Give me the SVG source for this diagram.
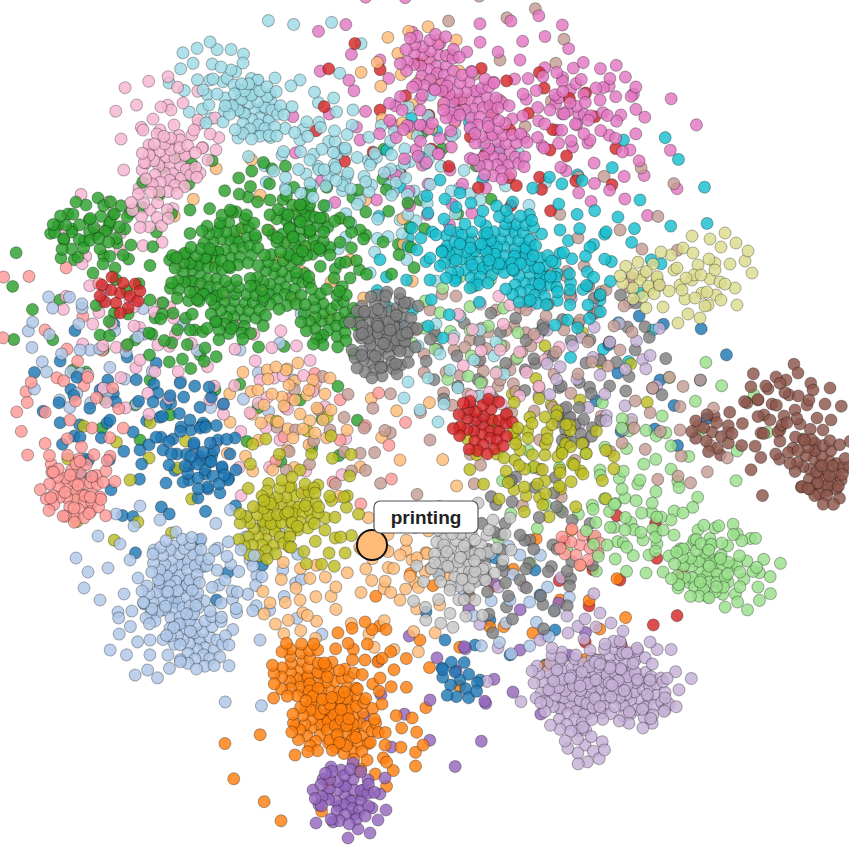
<svg xmlns="http://www.w3.org/2000/svg" width="849" height="852" viewBox="0 0 849 852">
<defs>
<style>
.lbl{font-family:"Liberation Sans",Arial,sans-serif;font-weight:bold;font-size:19px;fill:#222}
</style>
<!-- dense blob, radius ~30 -->
<g id="A">
<circle cx="0" cy="0" r="6"/><circle cx="9" cy="2" r="6"/><circle cx="-9" cy="-1" r="6"/><circle cx="4" cy="9" r="6"/><circle cx="-5" cy="10" r="6"/><circle cx="5" cy="-9" r="6"/><circle cx="-4" cy="-8" r="6"/><circle cx="17" cy="-3" r="6"/><circle cx="-17" cy="2" r="6"/><circle cx="13" cy="8" r="6"/><circle cx="-13" cy="-8" r="6"/><circle cx="12" cy="-12" r="6"/><circle cx="-12" cy="12" r="6"/><circle cx="20" cy="6" r="6"/><circle cx="-21" cy="-6" r="6"/><circle cx="1" cy="18" r="6"/><circle cx="-1" cy="-18" r="6"/><circle cx="10" cy="17" r="6"/><circle cx="-10" cy="-17" r="6"/><circle cx="19" cy="-13" r="6"/><circle cx="-19" cy="13" r="6"/><circle cx="26" cy="-2" r="6"/><circle cx="-26" cy="3" r="6"/><circle cx="22" cy="15" r="6"/><circle cx="-23" cy="-14" r="6"/><circle cx="8" cy="25" r="6"/><circle cx="-8" cy="-25" r="6"/><circle cx="-15" cy="21" r="6"/><circle cx="15" cy="-21" r="6"/><circle cx="28" cy="8" r="6"/><circle cx="-28" cy="-9" r="6"/><circle cx="0" cy="28" r="6"/><circle cx="2" cy="-28" r="6"/><circle cx="24" cy="-17" r="6"/><circle cx="-24" cy="18" r="6"/><circle cx="18" cy="23" r="6"/>
</g>
<!-- medium blob, radius ~40 -->
<g id="B">
<circle cx="0" cy="0" r="6"/><circle cx="12" cy="-5" r="6"/><circle cx="-11" cy="6" r="6"/><circle cx="5" cy="14" r="6"/><circle cx="-6" cy="-15" r="6"/><circle cx="22" cy="8" r="6"/><circle cx="-23" cy="-6" r="6"/><circle cx="18" cy="-20" r="6"/><circle cx="-17" cy="22" r="6"/><circle cx="30" cy="-6" r="6"/><circle cx="-31" cy="5" r="6"/><circle cx="8" cy="29" r="6"/><circle cx="-9" cy="-30" r="6"/><circle cx="28" cy="20" r="6"/><circle cx="-27" cy="-21" r="6"/><circle cx="-2" cy="38" r="6"/><circle cx="3" cy="-37" r="6"/><circle cx="36" cy="10" r="6"/><circle cx="-37" cy="-10" r="6"/><circle cx="20" cy="33" r="6"/><circle cx="-19" cy="-33" r="6"/><circle cx="35" cy="-22" r="6"/><circle cx="-34" cy="23" r="6"/><circle cx="14" cy="-10" r="6"/>
</g>
<!-- small blob, radius ~20 -->
<g id="C">
<circle cx="0" cy="0" r="6"/><circle cx="10" cy="3" r="6"/><circle cx="-9" cy="-3" r="6"/><circle cx="3" cy="-10" r="6"/><circle cx="-4" cy="10" r="6"/><circle cx="15" cy="-9" r="6"/><circle cx="-15" cy="9" r="6"/><circle cx="8" cy="15" r="6"/><circle cx="-8" cy="-16" r="6"/><circle cx="18" cy="8" r="6"/><circle cx="-18" cy="-8" r="6"/><circle cx="0" cy="20" r="6"/><circle cx="20" cy="-2" r="6"/><circle cx="-20" cy="3" r="6"/>
</g>
<!-- loose spread, radius ~55 -->
<g id="D">
<circle cx="0" cy="0" r="6"/><circle cx="18" cy="-8" r="6"/><circle cx="-16" cy="10" r="6"/><circle cx="8" cy="22" r="6"/><circle cx="-10" cy="-24" r="6"/><circle cx="34" cy="6" r="6"/><circle cx="-34" cy="-4" r="6"/><circle cx="26" cy="-30" r="6"/><circle cx="-24" cy="32" r="6"/><circle cx="44" cy="-14" r="6"/><circle cx="-46" cy="14" r="6"/><circle cx="12" cy="42" r="6"/><circle cx="-14" cy="-44" r="6"/><circle cx="40" cy="30" r="6"/><circle cx="-40" cy="-30" r="6"/><circle cx="-2" cy="54" r="6"/><circle cx="4" cy="-54" r="6"/><circle cx="52" cy="12" r="6"/><circle cx="-54" cy="-10" r="6"/><circle cx="28" cy="46" r="6"/><circle cx="-28" cy="-46" r="6"/><circle cx="50" cy="-32" r="6"/>
</g>
<!-- sparse scatter, radius ~70 -->
<g id="S">
<circle cx="0" cy="0" r="6"/><circle cx="35" cy="-20" r="6"/><circle cx="-40" cy="15" r="6"/><circle cx="20" cy="45" r="6"/><circle cx="-25" cy="-50" r="6"/><circle cx="60" cy="10" r="6"/><circle cx="-62" cy="-5" r="6"/><circle cx="10" cy="-65" r="6"/><circle cx="-8" cy="64" r="6"/><circle cx="48" cy="48" r="6"/><circle cx="-50" cy="-45" r="6"/><circle cx="45" cy="-55" r="6"/><circle cx="-45" cy="50" r="6"/><circle cx="25" cy="15" r="6"/>
</g>
</defs>
<rect width="849" height="852" fill="#fff"/>
<g id="points" stroke="#000" stroke-opacity="0.3" stroke-width="1" fill-opacity="0.82">
<!-- thin background scatter -->
<g id="scatter">
<use href="#S" transform="translate(300,400) rotate(10)" fill="#2ca02c"/>
<use href="#S" transform="translate(420,200) rotate(50)" fill="#2ca02c"/>
<use href="#S" transform="translate(150,380) rotate(90)" fill="#2ca02c"/>
<use href="#S" transform="translate(60,300) rotate(130)" fill="#2ca02c"/>
<use href="#S" transform="translate(600,300) rotate(20)" fill="#17becf"/>
<use href="#S" transform="translate(440,180) rotate(200)" fill="#17becf"/>
<use href="#S" transform="translate(640,200) rotate(70)" fill="#17becf"/>
<use href="#S" transform="translate(630,150) rotate(30)" fill="#e377c2"/>
<use href="#S" transform="translate(380,60) rotate(160)" fill="#e377c2"/>
<use href="#S" transform="translate(360,140) rotate(250)" fill="#e377c2"/>
<use href="#S" transform="translate(300,80) rotate(20)" fill="#9edae5"/>
<use href="#S" transform="translate(400,220) rotate(110)" fill="#9edae5"/>
<use href="#S" transform="translate(480,200) rotate(300)" fill="#9edae5"/>
<use href="#S" transform="translate(130,300) rotate(40)" fill="#f7b6d2"/>
<use href="#S" transform="translate(120,250) rotate(190)" fill="#f7b6d2"/>
<use href="#S" transform="translate(280,440) rotate(80)" fill="#f7b6d2"/>
<use href="#S" transform="translate(500,60) rotate(120)" fill="#c49c94"/>
<use href="#S" transform="translate(620,230) rotate(10)" fill="#c49c94"/>
<use href="#S" transform="translate(430,440) rotate(220)" fill="#c49c94"/>
<use href="#S" transform="translate(540,440) rotate(60)" fill="#c49c94"/>
<use href="#S" transform="translate(550,150) rotate(80)" fill="#d62728"/>
<use href="#S" transform="translate(380,110) rotate(300)" fill="#d62728"/>
<use href="#S" transform="translate(620,580) rotate(170)" fill="#d62728"/>
<use href="#S" transform="translate(45,330) rotate(10)" fill="#ff9896"/>
<use href="#S" transform="translate(140,450) rotate(60)" fill="#1f77b4"/>
<use href="#S" transform="translate(100,390) rotate(150)" fill="#1f77b4"/>
<use href="#S" transform="translate(660,380) rotate(30)" fill="#1f77b4"/>
<use href="#S" transform="translate(200,540) rotate(250)" fill="#1f77b4"/>
<use href="#S" transform="translate(490,620) rotate(90)" fill="#1f77b4"/>
<use href="#S" transform="translate(350,260) rotate(100)" fill="#ffbb78"/>
<use href="#S" transform="translate(400,460) rotate(200)" fill="#ffbb78"/>
<use href="#S" transform="translate(240,230) rotate(330)" fill="#ffbb78"/>
<use href="#S" transform="translate(580,400) rotate(140)" fill="#bcbd22"/>
<use href="#S" transform="translate(130,480) rotate(280)" fill="#bcbd22"/>
<use href="#S" transform="translate(90,350) rotate(100)" fill="#aec7e8"/>
<use href="#S" transform="translate(240,350) rotate(20)" fill="#aec7e8"/>
<use href="#S" transform="translate(260,640) rotate(170)" fill="#aec7e8"/>
<use href="#S" transform="translate(420,640) rotate(40)" fill="#ff7f0e"/>
<use href="#S" transform="translate(295,755) rotate(240)" fill="#ff7f0e"/>
<use href="#S" transform="translate(560,600) rotate(330)" fill="#ff7f0e"/>
<use href="#S" transform="translate(430,700) rotate(120)" fill="#9467bd"/>
<use href="#S" transform="translate(520,650) rotate(300)" fill="#9467bd"/>
<use href="#S" transform="translate(540,640) rotate(10)" fill="#c5b0d5"/>
<use href="#S" transform="translate(600,360) rotate(200)" fill="#c5b0d5"/>
<use href="#S" transform="translate(600,470) rotate(50)" fill="#98df8a"/>
<use href="#S" transform="translate(700,430) rotate(230)" fill="#98df8a"/>
<use href="#S" transform="translate(560,510) rotate(110)" fill="#98df8a"/>
<use href="#S" transform="translate(600,360) rotate(80)" fill="#7f7f7f"/>
<use href="#S" transform="translate(530,540) rotate(160)" fill="#7f7f7f"/>
<use href="#S" transform="translate(780,430) rotate(60)" fill="#8c564b"/>
<use href="#S" transform="translate(340,440) rotate(300)" fill="#ff9896"/>
</g>
<!-- mixed filler between the main groups -->
<g id="filler">
<use href="#D" transform="translate(470,340)" fill="#c49c94"/>
<use href="#D" transform="translate(500,380) rotate(60)" fill="#c49c94"/>
<use href="#D" transform="translate(480,360) rotate(120)" fill="#7f7f7f"/>
<use href="#D" transform="translate(470,330) rotate(200)" fill="#98df8a"/>
<use href="#D" transform="translate(450,370) rotate(90)" fill="#9edae5"/>
<use href="#D" transform="translate(500,350) rotate(30)" fill="#f7b6d2"/>
<use href="#D" transform="translate(590,340) rotate(30)" fill="#7f7f7f"/>
<use href="#D" transform="translate(600,375) rotate(100)" fill="#c5b0d5"/>
<use href="#D" transform="translate(580,320)" fill="#c49c94"/>
<use href="#C" transform="translate(575,425) rotate(40)" fill="#7f7f7f"/>
<use href="#D" transform="translate(80,350) rotate(20)" fill="#aec7e8"/>
<use href="#D" transform="translate(110,420) rotate(140)" fill="#1f77b4"/>
<use href="#D" transform="translate(140,360) rotate(250)" fill="#f7b6d2"/>
<use href="#D" transform="translate(70,420) rotate(310)" fill="#ff9896"/>
<use href="#B" transform="translate(210,80) rotate(30)" fill="#9edae5"/>
<use href="#D" transform="translate(300,140) rotate(70)" fill="#9edae5"/>
<use href="#D" transform="translate(360,200) rotate(160)" fill="#9edae5"/>
<use href="#D" transform="translate(160,130) rotate(40)" fill="#f7b6d2"/>
<use href="#D" transform="translate(420,80) rotate(220)" fill="#ffbb78"/>
<use href="#D" transform="translate(590,140) rotate(10)" fill="#e377c2"/>
<use href="#D" transform="translate(520,60) rotate(130)" fill="#e377c2"/>
<use href="#D" transform="translate(450,170) rotate(260)" fill="#e377c2"/>
<use href="#D" transform="translate(430,150) rotate(80)" fill="#9edae5"/>
<use href="#S" transform="translate(510,130) rotate(200)" fill="#d62728"/>
<use href="#D" transform="translate(560,230) rotate(20)" fill="#17becf"/>
<use href="#D" transform="translate(430,280) rotate(110)" fill="#17becf"/>
<use href="#D" transform="translate(270,420) rotate(50)" fill="#ffbb78"/>
<use href="#D" transform="translate(330,430) rotate(170)" fill="#c49c94"/>
<use href="#D" transform="translate(260,380) rotate(280)" fill="#f7b6d2"/>
<use href="#D" transform="translate(640,480) rotate(60)" fill="#98df8a"/>
<use href="#D" transform="translate(680,430) rotate(200)" fill="#c49c94"/>
<use href="#D" transform="translate(560,470) rotate(300)" fill="#bcbd22"/>
<use href="#D" transform="translate(510,600) rotate(30)" fill="#aec7e8"/>
<use href="#D" transform="translate(520,580) rotate(150)" fill="#7f7f7f"/>
<use href="#D" transform="translate(400,600) rotate(240)" fill="#ffbb78"/>
<use href="#D" transform="translate(130,560) rotate(90)" fill="#aec7e8"/>
<use href="#D" transform="translate(250,560) rotate(190)" fill="#aec7e8"/>
<use href="#D" transform="translate(190,210) rotate(20)" fill="#2ca02c"/>
<use href="#D" transform="translate(360,230) rotate(140)" fill="#2ca02c"/>
<use href="#D" transform="translate(150,300) rotate(260)" fill="#2ca02c"/>
<use href="#D" transform="translate(520,535) rotate(70)" fill="#7f7f7f"/>
<use href="#D" transform="translate(300,470) rotate(330)" fill="#bcbd22"/>
<use href="#D" transform="translate(520,450) rotate(100)" fill="#bcbd22"/>
</g>
<g id="cluster-green" fill="#2ca02c">
<use href="#A" transform="translate(230,240)"/>
<use href="#A" transform="translate(280,280) rotate(40)"/>
<use href="#A" transform="translate(300,230) rotate(80)"/>
<use href="#A" transform="translate(240,310) rotate(120)"/>
<use href="#A" transform="translate(330,320) rotate(160)"/>
<use href="#A" transform="translate(200,275) rotate(200)"/>
<use href="#B" transform="translate(270,200) rotate(20)"/>
<use href="#B" transform="translate(190,330) rotate(30)"/>
<use href="#B" transform="translate(330,255) rotate(60)"/>
<use href="#B" transform="translate(95,235)"/>
<use href="#C" transform="translate(72,232) rotate(30)"/>
<use href="#C" transform="translate(110,222) rotate(100)"/>
</g>
<g id="cluster-lightpink" fill="#f7b6d2">
<use href="#B" transform="translate(180,140)"/>
<use href="#A" transform="translate(170,165) rotate(60)"/>
<use href="#C" transform="translate(150,210) rotate(30)"/>
</g>
<g id="cluster-lightcyan" fill="#9edae5">
<use href="#B" transform="translate(240,100)"/>
<use href="#A" transform="translate(255,110) rotate(45)"/>
<use href="#B" transform="translate(310,160) rotate(70)"/>
<use href="#B" transform="translate(370,165) rotate(140)"/>
</g>
<g id="cluster-pink" fill="#e377c2">
<use href="#A" transform="translate(430,60) rotate(30)"/>
<use href="#A" transform="translate(470,100)"/>
<use href="#B" transform="translate(550,110) rotate(40)"/>
<use href="#B" transform="translate(600,100) rotate(100)"/>
<use href="#B" transform="translate(420,125) rotate(200)"/>
<use href="#A" transform="translate(500,150) rotate(70)"/>
</g>
<g id="cluster-cyan" fill="#17becf">
<use href="#A" transform="translate(470,260)"/>
<use href="#A" transform="translate(530,275) rotate(60)"/>
<use href="#A" transform="translate(510,240) rotate(120)"/>
<use href="#B" transform="translate(570,290) rotate(20)"/>
<use href="#B" transform="translate(450,230) rotate(90)"/>
</g>
<g id="cluster-gray" fill="#7f7f7f">
<use href="#A" transform="translate(385,320)"/>
<use href="#A" transform="translate(380,350) rotate(90)"/>
<use href="#B" transform="translate(390,330) rotate(45)"/>
</g>
<g id="cluster-lightolive" fill="#dbdb8d">
<use href="#B" transform="translate(680,285)"/>
<use href="#B" transform="translate(715,270) rotate(90)"/>
<use href="#C" transform="translate(640,280) rotate(20)"/>
</g>
<g id="cluster-red" fill="#d62728">
<use href="#C" transform="translate(120,293)"/>
<use href="#A" transform="translate(483,425) rotate(30)"/>
</g>
<g id="cluster-lightred" fill="#ff9896">
<use href="#A" transform="translate(75,490) rotate(20)"/>
<use href="#B" transform="translate(78,485) rotate(80)"/>
<use href="#C" transform="translate(580,545)"/>
</g>
<g id="cluster-blue" fill="#1f77b4">
<use href="#B" transform="translate(200,460)"/>
<use href="#B" transform="translate(190,420) rotate(60)"/>
<use href="#C" transform="translate(205,470) rotate(20)"/>
<use href="#C" transform="translate(460,680) rotate(40)"/>
</g>
<g id="cluster-lightorange" fill="#ffbb78">
<use href="#B" transform="translate(295,400)"/>
<use href="#B" transform="translate(400,555) rotate(45)"/>
<use href="#B" transform="translate(300,600) rotate(100)"/>
</g>
<g id="cluster-olive" fill="#bcbd22">
<use href="#A" transform="translate(290,505)"/>
<use href="#A" transform="translate(265,530) rotate(70)"/>
<use href="#B" transform="translate(325,530) rotate(60)"/>
<use href="#B" transform="translate(545,455) rotate(30)"/>
</g>
<g id="cluster-lightgray" fill="#c7c7c7">
<use href="#A" transform="translate(460,560) rotate(20)"/>
<use href="#B" transform="translate(475,540)"/>
<use href="#B" transform="translate(450,590) rotate(70)"/>
</g>
<g id="cluster-lightblue" fill="#aec7e8">
<use href="#A" transform="translate(170,600)"/>
<use href="#A" transform="translate(200,640) rotate(45)"/>
<use href="#B" transform="translate(150,640) rotate(20)"/>
<use href="#B" transform="translate(225,580) rotate(80)"/>
<use href="#A" transform="translate(180,565) rotate(150)"/>
</g>
<g id="cluster-orange" fill="#ff7f0e">
<use href="#A" transform="translate(330,690)"/>
<use href="#A" transform="translate(350,725) rotate(50)"/>
<use href="#A" transform="translate(300,670) rotate(100)"/>
<use href="#B" transform="translate(365,660) rotate(30)"/>
<use href="#B" transform="translate(385,745) rotate(120)"/>
<use href="#A" transform="translate(320,725) rotate(150)"/>
</g>
<g id="cluster-purple" fill="#9467bd">
<use href="#B" transform="translate(350,800)"/>
<use href="#A" transform="translate(345,795) rotate(30)"/>
</g>
<g id="cluster-lightpurple" fill="#c5b0d5">
<use href="#A" transform="translate(560,680)"/>
<use href="#A" transform="translate(620,670) rotate(60)"/>
<use href="#A" transform="translate(600,690) rotate(120)"/>
<use href="#A" transform="translate(640,700) rotate(170)"/>
<use href="#A" transform="translate(570,705) rotate(220)"/>
<use href="#B" transform="translate(650,680) rotate(30)"/>
<use href="#B" transform="translate(590,650) rotate(90)"/>
<use href="#C" transform="translate(585,745) rotate(20)"/>
</g>
<g id="cluster-lightgreen" fill="#98df8a">
<use href="#B" transform="translate(680,550)"/>
<use href="#B" transform="translate(720,560) rotate(50)"/>
<use href="#A" transform="translate(700,570) rotate(20)"/>
<use href="#B" transform="translate(625,530) rotate(120)"/>
<use href="#B" transform="translate(740,572) rotate(20)"/>
</g>
<g id="cluster-brown" fill="#8c564b">
<use href="#B" transform="translate(795,410)"/>
<use href="#B" transform="translate(770,420) rotate(45)"/>
<use href="#A" transform="translate(820,465) rotate(40)"/>
<use href="#C" transform="translate(828,485) rotate(80)"/>
<use href="#C" transform="translate(712,432) rotate(10)"/>
</g>
</g>
<g id="node-printing">
<circle cx="372" cy="545" r="15" fill="#ffbb78" stroke="#111" stroke-width="2"/>
<rect x="374" y="501" width="104" height="32" rx="6" fill="#fff" stroke="#555" stroke-width="1.2"/>
<text class="lbl" x="426" y="524" text-anchor="middle">printing</text>
</g>
</svg>
